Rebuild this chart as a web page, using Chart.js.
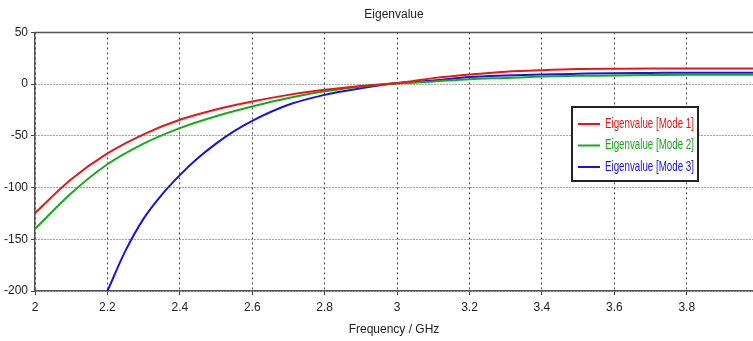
<!DOCTYPE html>
<html>
<head>
<meta charset="utf-8">
<script src="https://cdn.jsdelivr.net/npm/chart.js@4/dist/chart.umd.min.js"></script>
<style>
  html, body { margin: 0; padding: 0; background: #fff; }
  #wrap { width: 753px; height: 341px; position: relative; }
</style>
</head>
<body>
<div id="wrap"><canvas id="eigenChart"></canvas></div>
<script>
// Eigenvalue vs frequency, 3 modes
const freq = [2.0, 2.1, 2.2, 2.3, 2.4, 2.5, 2.6, 2.7, 2.8, 2.9, 3.0, 3.1, 3.2, 3.3, 3.4, 3.5, 3.6, 3.7, 3.8, 3.9, 4.0]
const mode1 = [-124.5, -92, -67, -48.5, -34.5, -24.5, -16.8, -10.4, -5.5, -1.8, 1, 5.8, 9.3, 12, 13.5, 14.5, 14.8, 15, 15, 15, 15]
const mode2 = [-140, -105.5, -77.5, -57.5, -42.5, -31, -21.7, -13.5, -7, -2.5, 0.5, 2.6, 4.8, 6, 7.3, 8, 8.3, 8.7, 9, 9, 9]
const freq3 = [2.2, 2.25, 2.3, 2.35, 2.4, 2.45, 2.5, 2.55, 2.6, 2.7, 2.8, 2.9, 3.0, 3.1, 3.2, 3.3, 3.4, 3.5, 3.6, 3.7, 3.8, 3.9, 4.0]
const mode3 = [-200, -161, -130, -107, -88, -71.5, -57.5, -45.5, -35.5, -20, -10.4, -4, 1, 3.5, 6.8, 8.3, 9.3, 10, 10.6, 10.8, 11, 11, 11]

const seriesLabels = ["Eigenvalue [Mode 1]", "Eigenvalue [Mode 2]", "Eigenvalue [Mode 3]"]
const seriesColors = ["#f01414", "#14ac14", "#1414e6"]
const yTicks = [50, 0, -50, -100, -150, -200]

const FONT = "'Liberation Sans', Arial, sans-serif"

const toPoints = (xs, ys) => xs.map((x, i) => ({ x: x, y: ys[i] }))

// legend drawn inside the plot, plus the solid top frame line
const boxLegend = {
  id: "boxLegend",
  afterDraw(chart) {
    const ctx = chart.ctx
    const a = chart.chartArea
    ctx.save()
    ctx.strokeStyle = "#555"
    ctx.lineWidth = 1.5
    ctx.beginPath()
    ctx.moveTo(a.left, a.top)
    ctx.lineTo(a.right, a.top)
    ctx.stroke()

    const bx = 572, by = 107, bw = 126, bh = 74
    ctx.fillStyle = "#fff"
    ctx.fillRect(bx, by, bw, bh)
    ctx.strokeStyle = "#222"
    ctx.lineWidth = 2
    ctx.strokeRect(bx, by, bw, bh)
    ctx.font = "14px " + FONT
    ctx.textBaseline = "middle"
    chart.data.datasets.forEach((ds, i) => {
      const yy = by + 17 + i * 21.5
      ctx.strokeStyle = ds.borderColor
      ctx.lineWidth = 2
      ctx.beginPath()
      ctx.moveTo(bx + 6, yy)
      ctx.lineTo(bx + 28, yy)
      ctx.stroke()
      ctx.fillStyle = ds.borderColor
      ctx.fillText(ds.label, bx + 33, yy, 89)
    })
    ctx.restore()
  },
}

new Chart(document.getElementById("eigenChart"), {
  type: "line",
  data: {
    datasets: [
      { label: seriesLabels[0], data: toPoints(freq, mode1), borderColor: seriesColors[0] },
      { label: seriesLabels[1], data: toPoints(freq, mode2), borderColor: seriesColors[1] },
      { label: seriesLabels[2], data: toPoints(freq3, mode3), borderColor: seriesColors[2] },
    ],
  },
  options: {
    responsive: true,
    maintainAspectRatio: false,
    animation: false,
    layout: { padding: 0 },
    elements: {
      line: { borderWidth: 2, cubicInterpolationMode: "monotone", fill: false },
      point: { radius: 0 },
    },
    plugins: {
      legend: { display: false },
      tooltip: { enabled: false },
      title: {
        display: true,
        text: "Eigenvalue",
        fullSize: false,
        color: "#222",
        font: { family: FONT, size: 12, weight: "normal" },
        padding: { top: 7, bottom: 11 },
      },
    },
    scales: {
      x: {
        type: "linear",
        min: 2,
        max: 3.983,
        afterBuildTicks: (scale) => {
          scale.ticks = scale.ticks.filter((t) => Math.abs(t.value * 5 - Math.round(t.value * 5)) < 1e-6)
        },
        afterFit: (scale) => { scale.height = 50 },
        ticks: {
          stepSize: 0.2,
          color: "#222",
          font: { family: FONT, size: 12 },
          padding: 5,
          maxRotation: 0,
          callback: (v) => String(Math.round(v * 10) / 10),
        },
        grid: {
          color: "#444",
          tickLength: 4,
          tickColor: "#444",
        },
        border: { color: "#555", width: 1.5, dash: [2, 3] },
        title: {
          display: true,
          text: "Frequency / GHz",
          color: "#222",
          font: { family: FONT, size: 12 },
          padding: { top: 3 },
        },
      },
      y: {
        min: -200,
        max: 50,
        afterBuildTicks: (scale) => {
          scale.ticks = yTicks.map((v) => ({ value: v }))
        },
        afterFit: (scale) => { scale.width = 35 },
        ticks: {
          stepSize: 50,
          color: "#222",
          font: { family: FONT, size: 12 },
          padding: 3,
        },
        grid: {
          color: "#444",
          tickLength: 4,
          tickColor: "#444",
        },
        border: { color: "#555", width: 1.5, dash: [1, 2] },
      },
    },
  },
  plugins: [boxLegend],
})
</script>
</body>
</html>
